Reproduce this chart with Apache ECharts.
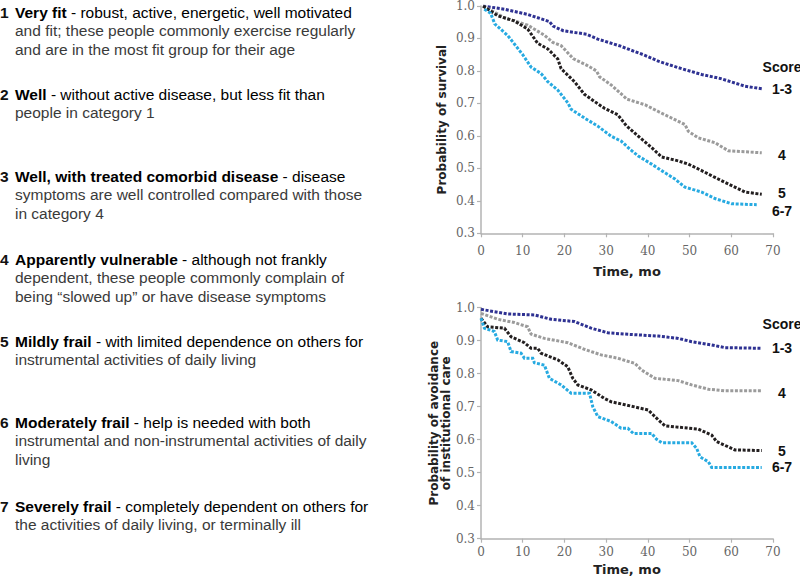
<!DOCTYPE html>
<html>
<head>
<meta charset="utf-8">
<script src="https://cdn.jsdelivr.net/npm/echarts@6/dist/echarts.min.js"></script>
<style>
html,body{margin:0;padding:0;background:#fff;}
#chart{width:800px;height:578px;}
</style>
</head>
<body>
<div id="chart"></div>
<script>
// ---------- Data ----------
const scaleNumbers = ['1', '2', '3', '4', '5', '6', '7'];
const scaleTitles = ['Very fit', 'Well', 'Well, with treated comorbid disease', 'Apparently vulnerable',
  'Mildly frail', 'Moderately frail', 'Severely frail'];
const scaleFirstLines = [
  ' - robust, active, energetic, well motivated',
  ' - without active disease, but less fit than',
  ' - disease',
  ' - although not frankly',
  ' - with limited dependence on others for',
  ' - help is needed with both',
  ' - completely dependent on others for'
];
const scaleMoreLines = [
  ['and fit; these people commonly exercise regularly', 'and are in the most fit group for their age'],
  ['people in category 1'],
  ['symptoms are well controlled compared with those', 'in category 4'],
  ['dependent, these people commonly complain of', 'being \u201cslowed up\u201d or have disease symptoms'],
  ['instrumental activities of daily living'],
  ['instrumental and non-instrumental activities of daily', 'living'],
  ['the activities of daily living, or terminally ill']
];

const scoreNames = ['1-3', '4', '5', '6-7'];
const xTicks = [0, 10, 20, 30, 40, 50, 60, 70];
const yTicks = [0.3, 0.4, 0.5, 0.6, 0.7, 0.8, 0.9, 1.0];

// Survival (months, probability)
const survival13 = [[0.5,1.0],[5.6,0.99],[11.2,0.974],[16.4,0.952],[17.3,0.938],[19.7,0.924],[25.3,0.913],[28,0.898],[33.3,0.877],[39.3,0.848],[42.5,0.830],[47.3,0.810],[52.9,0.789],[57.3,0.777],[63.3,0.753],[67.3,0.745]];
const survival4 = [[0.5,1.0],[5.6,0.964],[11.2,0.941],[15.2,0.910],[17.2,0.888],[19.2,0.878],[22.1,0.838],[25.3,0.818],[27.7,0.800],[28.4,0.782],[31.2,0.757],[35,0.713],[39.3,0.696],[42.5,0.675],[46.5,0.650],[48.9,0.635],[49.7,0.614],[52.1,0.594],[56.1,0.579],[59.3,0.554],[67.3,0.548]];
const survival5 = [[0.5,1.0],[4,0.97],[8,0.954],[11.2,0.929],[13.6,0.885],[16,0.868],[18.4,0.837],[19.2,0.807],[22.4,0.767],[24.8,0.728],[27.2,0.706],[29.6,0.685],[32.8,0.665],[34.8,0.632],[37.7,0.599],[40.9,0.564],[43.3,0.535],[47.3,0.523],[49.7,0.513],[52.9,0.493],[56.1,0.472],[60.1,0.447],[63.3,0.427],[67.3,0.420]];
const survival67 = [[0.8,0.99],[2.3,0.978],[3.3,0.945],[6.4,0.909],[8,0.883],[10,0.850],[12,0.812],[14.4,0.792],[16,0.767],[18.4,0.741],[20.8,0.702],[21.6,0.682],[24.8,0.655],[28,0.630],[31.2,0.599],[33.6,0.584],[35.7,0.559],[37.7,0.538],[40.9,0.513],[43.3,0.493],[46.5,0.467],[48.9,0.442],[52.9,0.427],[56.1,0.407],[60.1,0.391],[66.1,0.388]];

// Avoidance of institutional care (months, probability)
const care13 = [[0,0.995],[6.4,0.981],[12.8,0.978],[16.8,0.965],[22.4,0.958],[26.4,0.938],[30.4,0.924],[34.5,0.920],[42.5,0.914],[47.3,0.907],[50.5,0.897],[55.3,0.887],[58.5,0.879],[67.3,0.877]];
const care4 = [[0,0.983],[4,0.965],[8,0.955],[11.2,0.942],[12,0.920],[15.2,0.907],[20.8,0.894],[24.8,0.874],[28.8,0.857],[32.8,0.847],[36.9,0.831],[38.5,0.811],[41.7,0.786],[47.3,0.779],[50.5,0.766],[54.5,0.753],[58.5,0.748],[67.3,0.748]];
const care5 = [[0,0.968],[1.6,0.942],[5.6,0.938],[7.2,0.912],[10.4,0.894],[12,0.877],[13.6,0.877],[14.4,0.862],[18.4,0.842],[20.8,0.821],[22,0.786],[23.2,0.766],[26.4,0.751],[29.6,0.725],[31.2,0.715],[34.5,0.706],[40.1,0.690],[42.5,0.660],[44.1,0.642],[52.1,0.632],[55.3,0.614],[56.5,0.594],[60.9,0.569],[67.3,0.567]];
const care67 = [[0,0.968],[0.8,0.938],[3.2,0.928],[4,0.902],[6.4,0.897],[7.2,0.867],[9.6,0.862],[10.4,0.847],[12.4,0.847],[12.8,0.833],[15.2,0.826],[16.4,0.786],[19.2,0.766],[21.6,0.741],[26,0.741],[26.8,0.700],[28,0.670],[31.2,0.655],[33.6,0.635],[35.2,0.635],[36.5,0.619],[40.9,0.619],[42.1,0.601],[43.3,0.591],[50.5,0.591],[51.7,0.574],[52.5,0.548],[54.5,0.533],[55.3,0.516],[67.3,0.516]];

// ---------- Styling / layout ----------
const colors = ['#2e3192', '#9b9b9b', '#231f20', '#27aae1'];
const itemTop = [13, 95, 177, 260, 342, 423, 507];
const lineStep = 18.5;
const textFont = '"Liberation Sans", Arial, sans-serif';
const textSize = 15.5;
const tickFont = '"DejaVu Serif", serif';
const nameFont = '"DejaVu Sans", sans-serif';

const chart = echarts.init(document.getElementById('chart'), null, {renderer: 'svg'});

function makeX(gridIndex, labelMargin, nameGap) {
  return {
    type: 'value', gridIndex: gridIndex, min: xTicks[0], max: xTicks[xTicks.length - 1], interval: 10,
    axisLine: {show: true, lineStyle: {color: '#b3b3b3', width: 1.5}},
    axisTick: {show: true, length: 4, lineStyle: {color: '#b3b3b3', width: 1.2}},
    splitLine: {show: false},
    axisLabel: {color: '#666', fontFamily: tickFont, fontSize: 12, margin: labelMargin},
    name: 'Time, mo', nameLocation: 'middle', nameGap: nameGap,
    nameTextStyle: {fontFamily: nameFont, fontWeight: 'bold', fontSize: 13, color: '#222'}
  };
}
function makeY(gridIndex, name, nameGap) {
  return {
    type: 'value', gridIndex: gridIndex, min: yTicks[0], max: yTicks[yTicks.length - 1], interval: 0.1,
    axisLine: {show: true, lineStyle: {color: '#b3b3b3', width: 1.5}},
    axisTick: {show: true, length: 4, lineStyle: {color: '#b3b3b3', width: 1.2}},
    splitLine: {show: false},
    axisLabel: {color: '#666', fontFamily: tickFont, fontSize: 12, margin: 6,
      formatter: function (v) { return v.toFixed(1); }},
    name: name, nameLocation: 'middle', nameGap: nameGap,
    nameTextStyle: {fontFamily: nameFont, fontWeight: 'bold', fontSize: 12, color: '#222', lineHeight: 12}
  };
}
function makeSeries(data, idx, axisIndex) {
  return {
    type: 'line', xAxisIndex: axisIndex, yAxisIndex: axisIndex, data: data,
    showSymbol: false, symbol: 'none', animation: false, silent: true,
    lineStyle: {color: colors[idx], width: 3, type: [3, 1.6], cap: 'butt', join: 'miter'}
  };
}

const topSets = [survival13, survival4, survival5, survival67];
const botSets = [care13, care4, care5, care67];

// Left-hand text
const graphics = [];
for (let i = 0; i < scaleNumbers.length; i++) {
  const y0 = itemTop[i];
  graphics.push({type: 'text', left: 0, top: y0 - 9, style: {
    text: scaleNumbers[i], font: 'bold ' + textSize + 'px ' + textFont, fill: '#111'}});
  graphics.push({type: 'text', left: 15, top: y0 - 9, style: {
    text: '{b|' + scaleTitles[i] + '}{n|' + scaleFirstLines[i] + '}',
    rich: {b: {fontWeight: 'bold', fontSize: textSize, fontFamily: textFont, color: '#111'},
           n: {fontSize: textSize, fontFamily: textFont, color: '#3a3a3a'}}}});
  scaleMoreLines[i].forEach(function (ln, k) {
    graphics.push({type: 'text', left: 15, top: y0 - 9 + lineStep * (k + 1), style: {
      text: ln, font: textSize + 'px ' + textFont, fill: '#3a3a3a'}});
  });
}

const option = {
  backgroundColor: '#fff',
  animation: false,
  grid: [
    {left: 481, top: 3.3, width: 292, height: 230, containLabel: false},
    {left: 481, top: 307.7, width: 292, height: 231, containLabel: false}
  ],
  xAxis: [makeX(0, 12, 32), makeX(1, 7, 24)],
  yAxis: [makeY(0, 'Probability of survival', 33), makeY(1, 'Probability of avoidance\nof institutional care', 25)],
  series: topSets.map(function (d, i) { return makeSeries(d, i, 0); })
    .concat(botSets.map(function (d, i) { return makeSeries(d, i, 1); })),
  graphic: graphics
};
chart.setOption(option);

// Score labels, placed at each curve's final value
const labelX = 782;
const labelFont = 'bold 14px ' + textFont;
const extra = [];
function addLabels(sets, gridIndex, scoreY, nudges) {
  extra.push({type: 'text', x: labelX, y: scoreY, style: {text: 'Score', font: labelFont, fill: '#111',
    align: 'center', verticalAlign: 'middle'}});
  sets.forEach(function (d, i) {
    const last = d[d.length - 1];
    const p = chart.convertToPixel({gridIndex: gridIndex}, [70, last[1]]);
    extra.push({type: 'text', x: labelX, y: p[1] + nudges[i], style: {text: scoreNames[i], font: labelFont,
      fill: '#111', align: 'center', verticalAlign: 'middle'}});
  });
}
addLabels(topSets, 0, 67, [0, 2, -1, 6]);
addLabels(botSets, 1, 324, [0, 2, 0, 0]);
chart.setOption({graphic: graphics.concat(extra)});
</script>
</body>
</html>
